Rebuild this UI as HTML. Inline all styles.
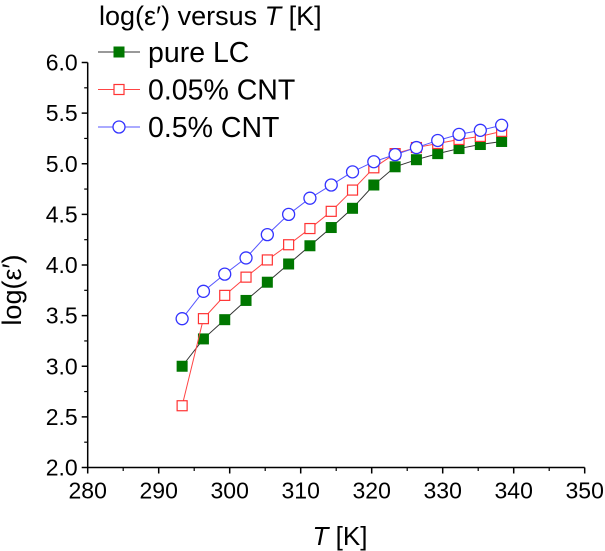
<!DOCTYPE html>
<html><head><meta charset="utf-8"><style>
body{margin:0;background:#fff}
svg{display:block;font-family:"Liberation Sans",Arial,sans-serif}
</style></head><body>
<svg id="chart" width="605" height="551">
</svg>
<script>
const temps=[293.3,296.3,299.3,302.3,305.3,308.3,311.3,314.3,317.3,320.3,323.3,326.3,329.3,332.3,335.3,338.3];
const pureLC=[3.00,3.27,3.46,3.65,3.83,4.01,4.19,4.37,4.56,4.79,4.97,5.04,5.10,5.15,5.19,5.22];
const cnt005=[2.61,3.47,3.70,3.88,4.05,4.20,4.36,4.53,4.74,4.96,5.10,5.16,5.20,5.24,5.27,5.32];
const cnt05=[3.47,3.74,3.91,4.07,4.30,4.50,4.66,4.79,4.92,5.02,5.09,5.16,5.23,5.29,5.33,5.38];
const xTicks=[280,290,300,310,320,330,340,350];
const yTicks=["2.0","2.5","3.0","3.5","4.0","4.5","5.0","5.5","6.0"];

const NS="http://www.w3.org/2000/svg";
const svg=document.getElementById('chart');
const X0=87.7,X1=584.7,Y0=467.5,Y1=62.5;
const xs=v=>X0+(v-280)/70*(X1-X0);
const ys=v=>Y0-(v-2)/4*(Y0-Y1);
function mk(t,a,p){const e=document.createElementNS(NS,t);for(const k in a)e.setAttribute(k,a[k]);(p||svg).appendChild(e);return e;}

let e;
e=mk('line',{x1:X0,y1:Y0,x2:X1,y2:Y0,stroke:'#000','stroke-width':1.5});


e=mk('line',{x1:X0,y1:Y0,x2:X0,y2:Y1,stroke:'#000','stroke-width':1.5});


xTicks.forEach((t,i)=>{
  const x=xs(t);
  mk('line',{x1:x,y1:Y0,x2:x,y2:Y0+6,stroke:'#000','stroke-width':1.5});
  if(i<xTicks.length-1){const m=xs(t+5);mk('line',{x1:m,y1:Y0,x2:m,y2:Y0+3.5,stroke:'#000','stroke-width':1.2});}
  e=mk('text',{x:x,y:Y0+31,'text-anchor':'middle','font-size':23});
  e.textContent=t;
  
  
});
yTicks.forEach((t,i)=>{
  const v=parseFloat(t),y=ys(v);
  mk('line',{x1:X0,y1:y,x2:X0-6,y2:y,stroke:'#000','stroke-width':1.5});
  if(i<yTicks.length-1){const m=ys(v+0.25);mk('line',{x1:X0,y1:m,x2:X0-3.5,y2:m,stroke:'#000','stroke-width':1.2});}
  e=mk('text',{x:X0-10,y:y+8,'text-anchor':'end','font-size':23});
  e.textContent=t;
  
  
});
e=mk('text',{x:340,y:545,'text-anchor':'middle','font-size':26});
e.innerHTML='<tspan font-style="italic">T</tspan> [K]';


e=mk('text',{x:0,y:0,'text-anchor':'middle','font-size':27,transform:'translate(21,290) rotate(-90)'});
e.textContent='log(ε′)';


e=mk('text',{x:99,y:25,'font-size':27});
e.innerHTML='log(ε′) versus <tspan font-style="italic">T</tspan> [K]';



function marker(g,type,x,y){
  if(type==='fill')mk('rect',{x:x-5.5,y:y-5.5,width:11,height:11,fill:'#007700'},g);
  else if(type==='sq')mk('rect',{x:x-5,y:y-5,width:10,height:10,fill:'#fff',stroke:'#ff3333','stroke-width':1.2},g);
  else mk('circle',{cx:x,cy:y,r:6,fill:'#fff',stroke:'#3333ff','stroke-width':1.3},g);
}
const series=[[pureLC,'#333','fill','series-pure-lc'],[cnt005,'#ff4444','sq','series-0-05-cnt'],[cnt05,'#5555ff','circ','series-0-5-cnt']];
series.forEach(([vals,col,type,name])=>{
  const g=mk('g',{});
  
  
  mk('polyline',{points:vals.map((v,i)=>xs(temps[i])+','+ys(v)).join(' '),fill:'none',stroke:col,'stroke-width':1},g);
  vals.forEach((v,i)=>marker(g,type,xs(temps[i]),ys(v)));
});
const legend=[['pure LC','#333','fill'],['0.05% CNT','#ff4444','sq'],['0.5% CNT','#5555ff','circ']];
legend.forEach(([lab,col,type],i)=>{
  const y=52+i*37.5;
  const g=mk('g',{});
  
  
  mk('line',{x1:98,y1:y,x2:140,y2:y,stroke:col,'stroke-width':1},g);
  marker(g,type,119,y);
  const t=mk('text',{x:148,y:y+10,'font-size':28.5},g);
  t.textContent=lab;
});
</script>
</body></html>
